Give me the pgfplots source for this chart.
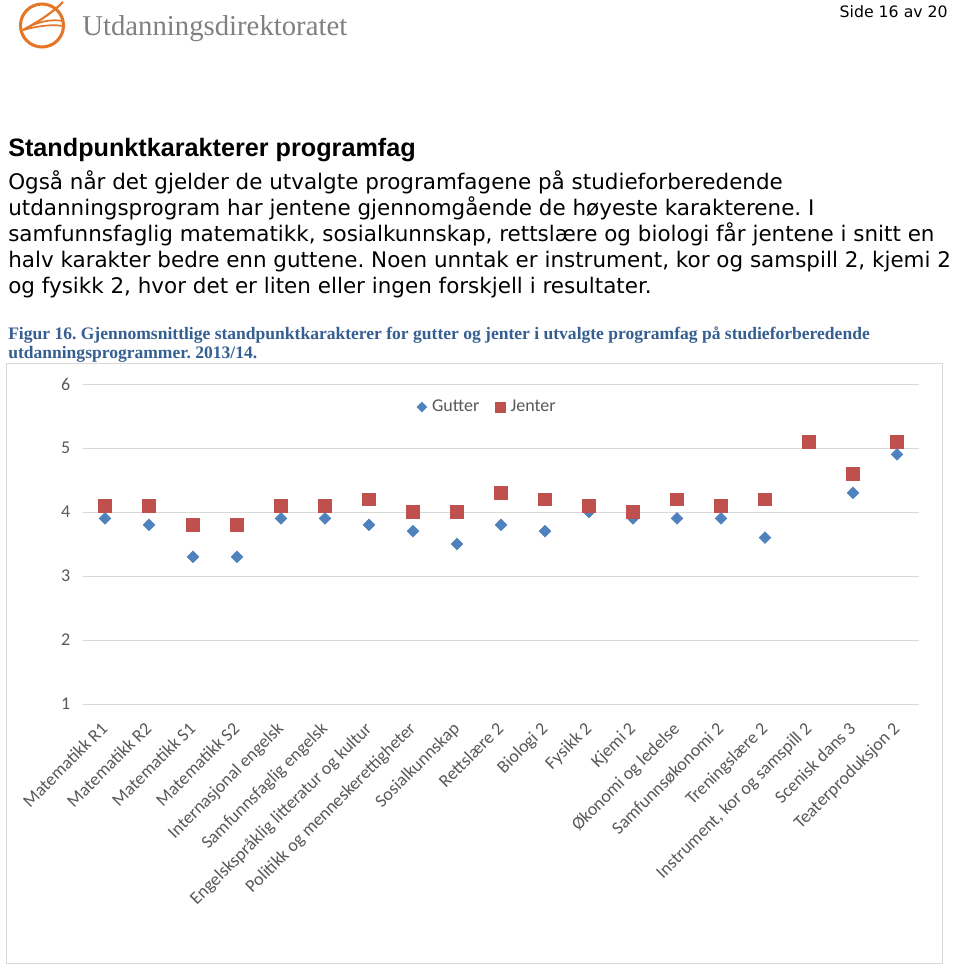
\documentclass[border=0pt]{standalone}
\usepackage{fontspec}
\usepackage{pgfplots}
\pgfplotsset{compat=1.18}
\setmainfont{Carlito}
\newfontfamily\calibri{Carlito}
\newfontfamily\verdana{DejaVu Sans}
\newfontfamily\arial{Liberation Sans}
\newfontfamily\capfont{Liberation Serif}
\newfontfamily\garamond{Liberation Serif}
\definecolor{gblue}{RGB}{79,129,189}
\definecolor{jred}{RGB}{192,80,77}
\definecolor{txtgrey}{RGB}{89,89,89}
\definecolor{gridgrey}{RGB}{217,217,217}
\definecolor{capblue}{RGB}{54,95,145}
\definecolor{logoorange}{RGB}{228,118,40}
\definecolor{logogrey}{RGB}{128,128,128}

\pgfplotstableread{
x gutter jenter
0 3.9 4.1
1 3.8 4.1
2 3.3 3.8
3 3.3 3.8
4 3.9 4.1
5 3.9 4.1
6 3.8 4.2
7 3.7 4.0
8 3.5 4.0
9 3.8 4.3
10 3.7 4.2
11 4.0 4.1
12 3.9 4.0
13 3.9 4.2
14 3.9 4.1
15 3.6 4.2
16 5.1 5.1
17 4.3 4.6
18 4.9 5.1
}\datatable

\begin{document}
\frenchspacing
\begin{tikzpicture}
\begin{scope}[x=0.75pt,y=-0.75pt]
\fill[white] (0,0) rectangle (960,967);
\useasboundingbox (0,0) rectangle (960,967);
% logo
\draw[logoorange, line width=2.3pt] (42,25.5) circle (21.5);
\draw[logoorange, line width=1.6pt] (23,30) .. controls (38,22) and (52,13) .. (63,2);
\draw[logoorange, line width=1.3pt] (23,30) .. controls (38,21) and (52,19) .. (63,21);
\draw[logoorange, line width=1.3pt] (23,30) .. controls (38,26) and (52,24) .. (63,26);
\node[anchor=base west, inner sep=0, text=logogrey] at (82,35) {\resizebox{198.75pt}{!}{\garamond Utdanningsdirektoratet}};
% page number
\node[anchor=base east, inner sep=0] at (948,17) {\verdana\fontsize{11.8}{14}\selectfont Side 16 av 20};
% heading
\node[anchor=base west, inner sep=0] at (8,156) {\arial\bfseries\fontsize{18.9}{22}\selectfont Standpunktkarakterer programfag};
% paragraph
\begin{scope}[every node/.style={anchor=base west, inner sep=0, font=\verdana\fontsize{16.1}{19}\selectfont}]
\node at (8,189) {Også når det gjelder de utvalgte programfagene på studieforberedende};
\node at (8,215) {utdanningsprogram har jentene gjennomgående de høyeste karakterene. I};
\node at (8,241) {samfunnsfaglig matematikk, sosialkunnskap, rettslære og biologi får jentene i snitt en};
\node at (8,267) {halv karakter bedre enn guttene. Noen unntak er instrument, kor og samspill 2, kjemi 2};
\node at (8,293) {og fysikk 2, hvor det er liten eller ingen forskjell i resultater.};
\end{scope}
% caption
\begin{scope}[every node/.style={anchor=base west, inner sep=0, text=capblue, font=\capfont\bfseries\fontsize{13.15}{15}\selectfont}]
\node at (8,339) {Figur 16. Gjennomsnittlige standpunktkarakterer for gutter og jenter i utvalgte programfag på studieforberedende};
\node at (8,358) {utdanningsprogrammer. 2013/14.};
\end{scope}
% chart frame
\draw[gridgrey, line width=0.75pt] (6,363) rectangle (942,963);
\end{scope}

\begin{axis}[
  at={(62.25pt,-528pt)}, anchor=south west,
  scale only axis, width=627pt, height=240pt,
  xmin=-0.5, xmax=18.5, ymin=1, ymax=6,
  ytick={1,2,3,4,5,6}, xtick={0,...,18},
  xticklabels={Matematikk R1, Matematikk R2, Matematikk S1, Matematikk S2, Internasjonal engelsk, Samfunnsfaglig engelsk, Engelskspråklig litteratur og kultur, Politikk og menneskerettigheter, Sosialkunnskap, Rettslære 2, Biologi 2, Fysikk 2, Kjemi 2, Økonomi og ledelse, Samfunnsøkonomi 2, Treningslære 2, {Instrument, kor og samspill 2}, Scenisk dans 3, Teaterproduksjon 2},
  axis line style={draw=none},
  major tick length=0pt,
  ymajorgrids, grid style={gridgrey, line width=0.75pt},
  tick label style={font=\calibri\fontsize{13.5}{16}\selectfont, text=txtgrey},
  yticklabel style={xshift=-6pt},
  xticklabel style={xshift=-4pt, rotate=45, anchor=north east, inner sep=1pt},
  xticklabel shift=11pt,
  /pgf/number format/assume math mode=true,
  legend style={at={(0.484,0.928)}, anchor=center, draw=none, fill=none, legend columns=-1, font=\calibri\fontsize{13.5}{16}\selectfont, text=txtgrey, /tikz/every odd column/.append style={column sep=2pt}, /tikz/every even column/.append style={column sep=10pt}},
  clip=false,
]
\addplot[forget plot, only marks, mark=square*, mark options={rotate=45, fill=gblue, draw=gblue}, mark size=3.1pt] table[x=x, y=gutter] {\datatable};
\addplot[forget plot, only marks, mark=square*, mark options={fill=jred, draw=jred}, mark size=4.8pt] table[x=x, y=jenter] {\datatable};
\addlegendimage{only marks, mark=square*, mark options={rotate=45, fill=gblue, draw=gblue}, mark size=2.6pt}
\addlegendentry{Gutter}
\addlegendimage{only marks, mark=square*, mark options={fill=jred, draw=jred}, mark size=3.7pt}
\addlegendentry{Jenter}
\end{axis}
\end{tikzpicture}
\end{document}
